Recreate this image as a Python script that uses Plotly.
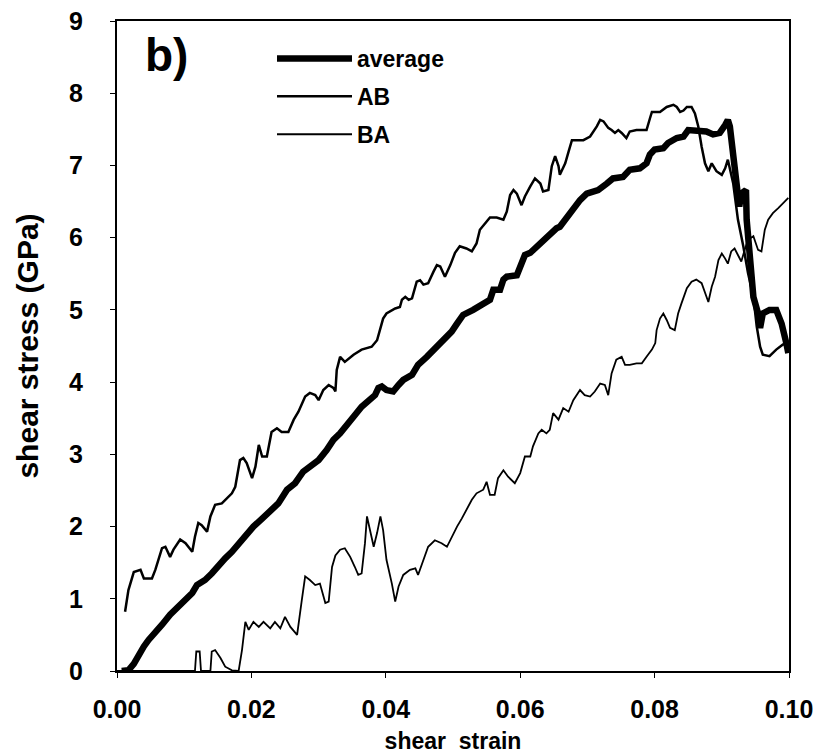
import plotly.graph_objects as go

# ---- data (shear strain, shear stress in GPa) ----
avg_x = [0.0007, 0.0017, 0.0025, 0.0032, 0.0040, 0.0047, 0.0057, 0.0067, 0.0079, 0.0089,
         0.0102, 0.0112, 0.0119, 0.0131, 0.0141, 0.0151, 0.0161, 0.0171, 0.0181, 0.0191,
         0.0203, 0.0216, 0.0228, 0.0240, 0.0253, 0.0265, 0.0277, 0.0287, 0.0300, 0.0312,
         0.0322, 0.0332, 0.0339, 0.0352, 0.0364, 0.0374, 0.0384, 0.0389, 0.0394, 0.0401,
         0.0411, 0.0419, 0.0426, 0.0439, 0.0448, 0.0461, 0.0476, 0.0488, 0.0498, 0.0506,
         0.0515, 0.0530, 0.0545, 0.0555, 0.0560, 0.0570, 0.0575, 0.0580, 0.0595, 0.0602,
         0.0607, 0.0615, 0.0625, 0.0639, 0.0654, 0.0659, 0.0674, 0.0689, 0.0699, 0.0716,
         0.0729, 0.0738, 0.0753, 0.0763, 0.0778, 0.0788, 0.0793, 0.0800, 0.0813, 0.0820,
         0.0833, 0.0843, 0.0850, 0.0862, 0.0877, 0.0887, 0.0897, 0.0905, 0.0909, 0.0912,
         0.0916, 0.0922, 0.0926, 0.0929, 0.0936, 0.0937, 0.0941, 0.0944, 0.0947, 0.0954,
         0.0957, 0.0961, 0.0971, 0.0981, 0.0989, 0.0996, 0.0999]
avg_y = [0.00, 0.01, 0.10, 0.22, 0.34, 0.43, 0.52, 0.64, 0.78, 0.87,
         0.98, 1.08, 1.19, 1.26, 1.35, 1.47, 1.56, 1.65, 1.77, 1.88,
         2.00, 2.11, 2.21, 2.32, 2.51, 2.60, 2.76, 2.83, 2.92, 3.06,
         3.20, 3.29, 3.38, 3.52, 3.66, 3.75, 3.82, 3.92, 3.94, 3.89,
         3.87, 3.96, 4.03, 4.10, 4.24, 4.35, 4.49, 4.63, 4.70, 4.81,
         4.93, 5.00, 5.07, 5.14, 5.28, 5.28, 5.42, 5.46, 5.48, 5.62,
         5.76, 5.79, 5.88, 6.02, 6.13, 6.15, 6.34, 6.52, 6.61, 6.66,
         6.75, 6.82, 6.84, 6.94, 6.96, 7.03, 7.15, 7.22, 7.24, 7.31,
         7.38, 7.40, 7.49, 7.49, 7.47, 7.43, 7.45, 7.56, 7.63, 7.54,
         7.17, 6.80, 6.43, 6.61, 6.66, 6.25, 5.88, 5.51, 5.18, 4.95,
         4.75, 4.95, 5.00, 5.00, 4.81, 4.54, 4.40]

ab_x = [0.0012, 0.0017, 0.0025, 0.0035, 0.0040, 0.0052, 0.0057, 0.0067, 0.0072, 0.0079,
        0.0084, 0.0094, 0.0102, 0.0112, 0.0116, 0.0121, 0.0126, 0.0134, 0.0139, 0.0146,
        0.0156, 0.0171, 0.0176, 0.0183, 0.0188, 0.0193, 0.0201, 0.0206, 0.0211, 0.0216,
        0.0223, 0.0230, 0.0238, 0.0245, 0.0255, 0.0263, 0.0270, 0.0280, 0.0287, 0.0295,
        0.0300, 0.0307, 0.0315, 0.0322, 0.0325, 0.0327, 0.0332, 0.0339, 0.0352, 0.0364,
        0.0379, 0.0387, 0.0396, 0.0401, 0.0414, 0.0421, 0.0424, 0.0429, 0.0434, 0.0439,
        0.0446, 0.0451, 0.0456, 0.0463, 0.0471, 0.0476, 0.0481, 0.0488, 0.0496, 0.0503,
        0.0510, 0.0520, 0.0528, 0.0535, 0.0540, 0.0548, 0.0555, 0.0565, 0.0575, 0.0580,
        0.0585, 0.0590, 0.0595, 0.0602, 0.0607, 0.0615, 0.0622, 0.0630, 0.0634, 0.0642,
        0.0647, 0.0652, 0.0657, 0.0659, 0.0667, 0.0672, 0.0677, 0.0694, 0.0704, 0.0714,
        0.0719, 0.0724, 0.0731, 0.0736, 0.0741, 0.0746, 0.0751, 0.0758, 0.0763, 0.0773,
        0.0788, 0.0793, 0.0796, 0.0808, 0.0818, 0.0828, 0.0833, 0.0838, 0.0843, 0.0848,
        0.0855, 0.0860, 0.0865, 0.0870, 0.0875, 0.0880, 0.0885, 0.0892, 0.0900, 0.0905,
        0.0909, 0.0917, 0.0924, 0.0932, 0.0939, 0.0947, 0.0952, 0.0957, 0.0961, 0.0971,
        0.0981, 0.0991, 0.0999]
ab_y = [0.82, 1.12, 1.37, 1.40, 1.28, 1.28, 1.40, 1.70, 1.72, 1.58,
        1.68, 1.82, 1.77, 1.65, 1.86, 2.05, 2.02, 1.93, 2.14, 2.30,
        2.32, 2.46, 2.55, 2.92, 2.95, 2.88, 2.67, 2.83, 3.13, 2.97,
        2.97, 3.31, 3.36, 3.31, 3.31, 3.48, 3.59, 3.80, 3.85, 3.82,
        3.75, 3.89, 3.96, 3.92, 3.87, 4.17, 4.35, 4.28, 4.38, 4.45,
        4.49, 4.58, 4.88, 4.95, 5.02, 5.04, 5.14, 5.18, 5.14, 5.16,
        5.39, 5.41, 5.35, 5.37, 5.53, 5.62, 5.60, 5.46, 5.62, 5.79,
        5.88, 5.85, 5.81, 5.92, 6.11, 6.20, 6.28, 6.28, 6.25, 6.36,
        6.59, 6.66, 6.61, 6.45, 6.57, 6.71, 6.82, 6.75, 6.64, 6.66,
        6.99, 7.13, 6.99, 6.87, 7.03, 7.19, 7.35, 7.35, 7.40, 7.54,
        7.63, 7.61, 7.52, 7.49, 7.45, 7.49, 7.45, 7.38, 7.47, 7.49,
        7.49, 7.65, 7.74, 7.74, 7.81, 7.84, 7.81, 7.74, 7.76, 7.81,
        7.81, 7.72, 7.54, 7.26, 7.03, 6.92, 7.03, 6.92, 6.87, 6.96,
        7.08, 6.75, 6.25, 5.88, 5.51, 5.18, 4.77, 4.49, 4.38, 4.36,
        4.45, 4.52, 4.53]

ba_x = [0.0000, 0.0116, 0.0118, 0.0123, 0.0125, 0.0139, 0.0141, 0.0146, 0.0154, 0.0161,
        0.0171, 0.0181, 0.0186, 0.0191, 0.0196, 0.0203, 0.0211, 0.0218, 0.0228, 0.0235,
        0.0243, 0.0250, 0.0258, 0.0268, 0.0275, 0.0280, 0.0287, 0.0295, 0.0302, 0.0310,
        0.0315, 0.0320, 0.0325, 0.0332, 0.0339, 0.0347, 0.0354, 0.0359, 0.0364, 0.0369,
        0.0372, 0.0377, 0.0382, 0.0387, 0.0392, 0.0396, 0.0401, 0.0409, 0.0414, 0.0419,
        0.0426, 0.0436, 0.0444, 0.0448, 0.0456, 0.0463, 0.0473, 0.0483, 0.0491, 0.0498,
        0.0506, 0.0513, 0.0520, 0.0528, 0.0535, 0.0545, 0.0550, 0.0555, 0.0562, 0.0567,
        0.0575, 0.0582, 0.0592, 0.0600, 0.0607, 0.0615, 0.0619, 0.0627, 0.0632, 0.0639,
        0.0644, 0.0649, 0.0657, 0.0664, 0.0672, 0.0679, 0.0689, 0.0696, 0.0704, 0.0711,
        0.0719, 0.0726, 0.0731, 0.0736, 0.0743, 0.0751, 0.0756, 0.0763, 0.0773, 0.0781,
        0.0788, 0.0796, 0.0801, 0.0803, 0.0808, 0.0813, 0.0818, 0.0823, 0.0830, 0.0835,
        0.0840, 0.0848, 0.0855, 0.0862, 0.0870, 0.0875, 0.0880, 0.0885, 0.0890, 0.0895,
        0.0900, 0.0905, 0.0909, 0.0914, 0.0919, 0.0924, 0.0929, 0.0934, 0.0939, 0.0947,
        0.0954, 0.0959, 0.0964, 0.0969, 0.0976, 0.0984, 0.0991, 0.0999]
ba_y = [0.00, 0.00, 0.27, 0.27, 0.00, 0.00, 0.27, 0.29, 0.18, 0.06,
        0.01, 0.00, 0.29, 0.68, 0.57, 0.68, 0.61, 0.68, 0.59, 0.68,
        0.59, 0.75, 0.61, 0.50, 0.98, 1.31, 1.26, 1.19, 1.21, 0.94,
        0.96, 1.44, 1.60, 1.68, 1.70, 1.58, 1.44, 1.33, 1.35, 1.77,
        2.14, 1.91, 1.72, 1.91, 2.14, 1.95, 1.54, 1.21, 0.96, 1.17,
        1.33, 1.40, 1.42, 1.33, 1.54, 1.72, 1.81, 1.77, 1.72, 1.86,
        2.00, 2.11, 2.23, 2.37, 2.46, 2.51, 2.62, 2.44, 2.44, 2.67,
        2.78, 2.69, 2.60, 2.74, 2.97, 2.97, 3.11, 3.29, 3.34, 3.29,
        3.34, 3.57, 3.48, 3.64, 3.59, 3.75, 3.89, 3.82, 3.80, 3.87,
        3.98, 3.96, 3.82, 4.12, 4.31, 4.35, 4.24, 4.24, 4.26, 4.26,
        4.35, 4.45, 4.54, 4.72, 4.88, 4.95, 4.86, 4.75, 4.72, 4.95,
        5.09, 5.30, 5.39, 5.42, 5.37, 5.23, 5.11, 5.32, 5.46, 5.69,
        5.78, 5.71, 5.64, 5.81, 5.85, 5.76, 5.67, 5.83, 5.97, 6.02,
        5.83, 5.81, 6.11, 6.25, 6.34, 6.41, 6.48, 6.55]

x_ticks = [0.00, 0.02, 0.04, 0.06, 0.08, 0.10]
x_tick_text = ["0.00", "0.02", "0.04", "0.06", "0.08", "0.10"]
y_ticks = [0, 1, 2, 3, 4, 5, 6, 7, 8, 9]

FONT = "Liberation Sans, Arial, sans-serif"

fig = go.Figure()
fig.add_trace(go.Scatter(x=avg_x, y=avg_y, mode="lines", name="average",
                         legendgroup="a",
                         line=dict(color="black", width=6.5)))
fig.add_trace(go.Scatter(x=ab_x, y=ab_y, mode="lines", name="AB",
                         legendgroup="b",
                         line=dict(color="black", width=2.5)))
fig.add_trace(go.Scatter(x=ba_x, y=ba_y, mode="lines", name="BA",
                         legendgroup="c",
                         line=dict(color="black", width=1.8)))

axis_common = dict(showline=True, linecolor="black", linewidth=2, mirror=True,
                   showgrid=False, zeroline=False, ticks="outside", ticklen=5,
                   tickwidth=1, tickcolor="black", automargin=False,
                   tickfont=dict(family=FONT, size=25, color="black", weight="bold"))

fig.update_xaxes(range=[0, 0.1], tickvals=x_ticks, ticktext=x_tick_text,
                 ticklabelstandoff=10,
                 title=dict(text="shear  strain", standoff=18,
                            font=dict(family=FONT, size=23, color="black", weight="bold")),
                 **axis_common)
fig.update_yaxes(range=[0, 9], tickvals=y_ticks,
                 ticklabelstandoff=22,
                 title=dict(text="shear stress (GPa)", standoff=22,
                            font=dict(family=FONT, size=30, color="black", weight="bold")),
                 **axis_common)

fig.add_annotation(text="b)", xref="paper", yref="paper", x=(143 - 117) / 672, y=1 - (55 - 21) / 650,
                   xanchor="left", yanchor="middle", showarrow=False,
                   font=dict(family=FONT, size=46, color="black", weight="bold"))

fig.update_layout(
    width=827, height=754,
    margin=dict(l=117, r=38, t=21, b=83),
    paper_bgcolor="white", plot_bgcolor="white",
    showlegend=True,
    legend=dict(x=(272 - 117) / 672, y=1 - (37 - 21) / 650, xanchor="left", yanchor="top",
                bgcolor="rgba(0,0,0,0)", borderwidth=0, itemwidth=75,
                tracegroupgap=5,
                font=dict(family=FONT, size=23, color="black", weight="bold")),
)

fig.write_html("out.html", config={"displayModeBar": False},
               post_script="document.body.style.margin='0';")
